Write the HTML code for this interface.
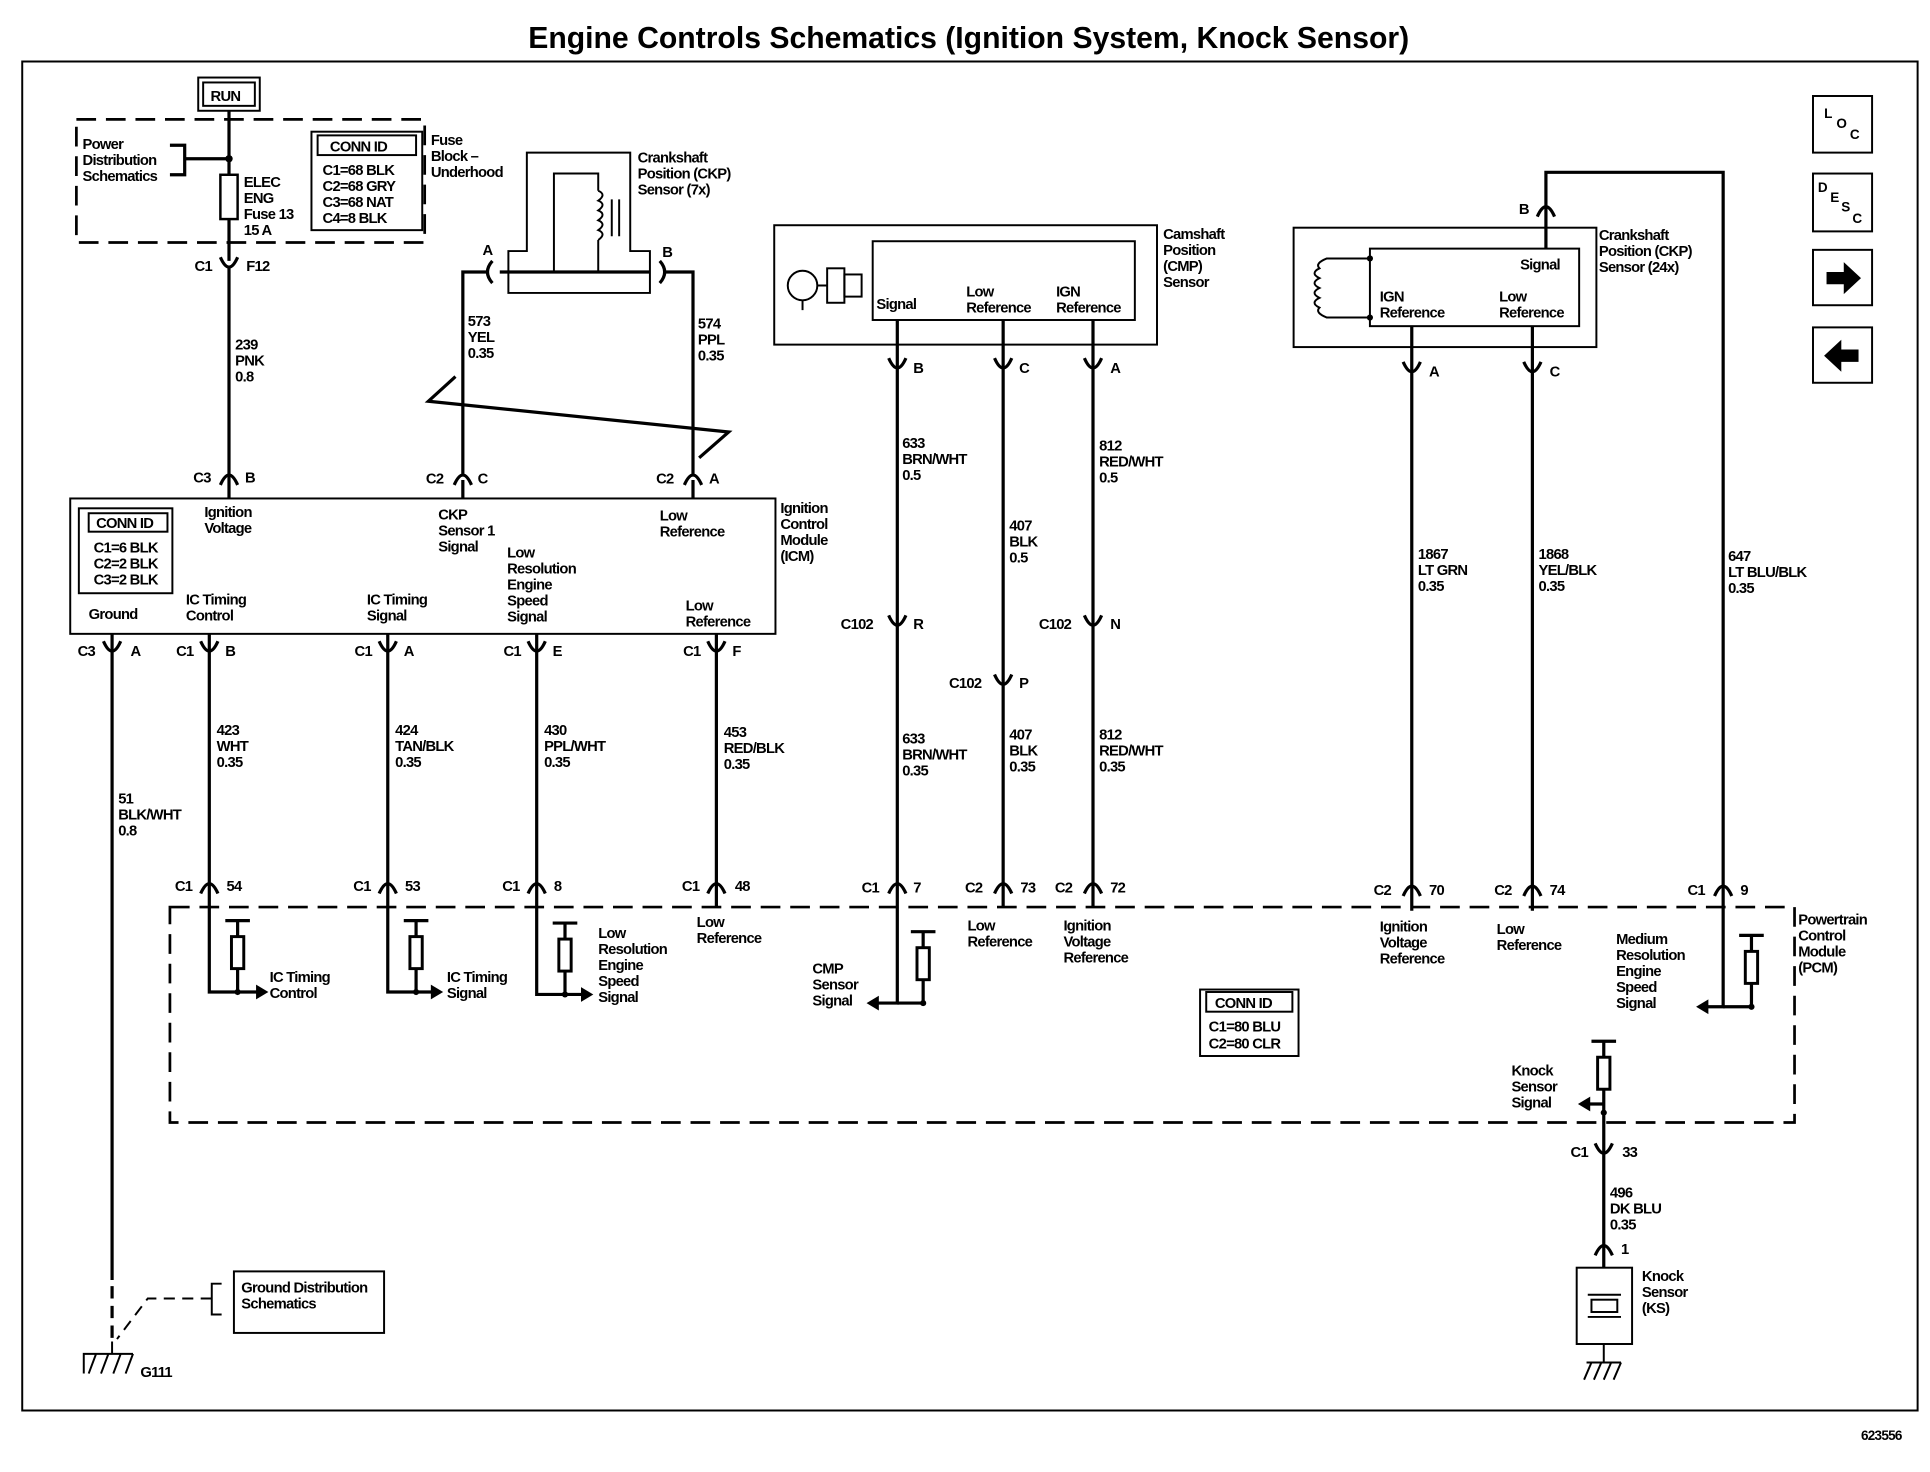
<!DOCTYPE html>
<html><head><meta charset="utf-8"><style>
html,body{margin:0;padding:0;background:#fff;}
svg{display:block;}
text{font-family:"Liberation Sans",sans-serif;font-size:12px;font-weight:bold;letter-spacing:-0.6px;fill:#000;}
.w{stroke:#000;stroke-width:2.6;fill:none;}
.t{stroke:#000;stroke-width:1.6;fill:none;}
.d{stroke:#000;stroke-width:2.2;fill:none;stroke-dasharray:16,8;}
</style></head><body>
<svg width="1930" height="1472" viewBox="0 0 1568 1196" xmlns="http://www.w3.org/2000/svg">
<defs>
<path id="cd" d="M-7,-6 Q0,10 7,-6" stroke="#000" stroke-width="2.6" fill="none"/>
<path id="cu" d="M-7,6 Q0,-10 7,6" stroke="#000" stroke-width="2.6" fill="none"/>
<g id="res"><line x1="-10" y1="0" x2="10" y2="0" stroke="#000" stroke-width="2.6"/><line x1="0" y1="0" x2="0" y2="58" stroke="#000" stroke-width="2.6"/><rect x="-5" y="13" width="10" height="26" fill="#fff" stroke="#000" stroke-width="2.4"/><circle cx="0" cy="58" r="2.5"/></g>
</defs>
<rect width="1568" height="1196" fill="#fff"/>
<text x="787" y="39" text-anchor="middle" style="font-size:24.5px;letter-spacing:0px">Engine Controls Schematics (Ignition System, Knock Sensor)</text>
<path d="M18,50 H1558 V1146 H18 Z" class="t" stroke-width="2"/>
<text x="1512" y="1170" style="font-size:11px">623556</text>

<!-- RUN -->
<rect x="161" y="63" width="50" height="27" class="t" stroke-width="3"/>
<rect x="165" y="67" width="42" height="19" class="t" stroke-width="1"/>
<text x="171" y="82">RUN</text>
<!-- power dist -->
<path d="M62,97 H345 V197 H62 Z" class="d"/>
<text><tspan x="67" y="121">Power</tspan><tspan x="67" y="134">Distribution</tspan><tspan x="67" y="147">Schematics</tspan></text>
<path d="M138,118 H150 V142 H138 M150,129 H186" class="w" stroke-width="2"/>
<circle cx="186" cy="129" r="3"/>
<path d="M186,90 V142 M186,178 V212 M186,218 V405" class="w"/>
<rect x="179" y="142" width="14" height="36" fill="#fff" stroke="#000" stroke-width="2"/>
<text><tspan x="198" y="152">ELEC</tspan><tspan x="198" y="165">ENG</tspan><tspan x="198" y="178">Fuse 13</tspan><tspan x="198" y="191">15 A</tspan></text>
<rect x="253" y="107" width="90" height="80" class="t" stroke-width="2.4"/>
<rect x="258" y="110" width="80" height="16" class="t"/>
<text x="268" y="123">CONN ID</text>
<text><tspan x="262" y="142">C1=68 BLK</tspan><tspan x="262" y="155">C2=68 GRY</tspan><tspan x="262" y="168">C3=68 NAT</tspan><tspan x="262" y="181">C4=8 BLK</tspan></text>
<text><tspan x="350" y="118">Fuse</tspan><tspan x="350" y="131">Block –</tspan><tspan x="350" y="144">Underhood</tspan></text>
<use href="#cd" x="186" y="215"/>
<text x="158" y="220">C1</text><text x="200" y="220">F12</text>
<text><tspan x="191" y="284">239</tspan><tspan x="191" y="297">PNK</tspan><tspan x="191" y="310">0.8</tspan></text>
<use href="#cu" x="186" y="388"/>
<text x="157" y="392">C3</text><text x="199" y="392">B</text>

<!-- CKP 7x -->
<path d="M428,204 V124 H512 V204 H528 V238 H413 V204 Z" class="t" stroke-width="2.4"/>
<path d="M450,221 V141 H486 V155 M486,195 V221" class="t" stroke-width="2.4"/>
<path d="M486,155 q7,3 0,8 q7,3 0,8 q7,3 0,8 q7,3 0,8 q7,3 0,8" class="t" stroke-width="2"/>
<path d="M497,162 V192 M503,162 V192" class="t" stroke-width="2"/>
<path d="M406,221 H528" class="w"/>
<path d="M400,212 q-8,9 0,18 M536,212 q8,9 0,18" class="w"/>
<text x="392" y="207">A</text><text x="538" y="209">B</text>
<path d="M396,221 H376 V385 M540,221 H563 V385" class="w"/>
<path d="M370,306 L348,326 L592,351 L568,372" class="w" stroke-width="2"/>
<text><tspan x="518" y="132">Crankshaft</tspan><tspan x="518" y="145">Position (CKP)</tspan><tspan x="518" y="158">Sensor (7x)</tspan></text>
<text><tspan x="380" y="265">573</tspan><tspan x="380" y="278">YEL</tspan><tspan x="380" y="291">0.35</tspan></text>
<text><tspan x="567" y="267">574</tspan><tspan x="567" y="280">PPL</tspan><tspan x="567" y="293">0.35</tspan></text>
<use href="#cu" x="376" y="388"/><text x="346" y="393">C2</text><text x="388" y="393">C</text>
<use href="#cu" x="563" y="388"/><text x="533" y="393">C2</text><text x="576" y="393">A</text>
<path d="M376,390 V405 M563,390 V405" class="w"/>

<!-- ICM -->
<rect x="57" y="405" width="573" height="110" class="t" stroke-width="2.4"/>
<rect x="64" y="413" width="76" height="69" class="t" stroke-width="2"/>
<rect x="72" y="417" width="64" height="15" class="t"/>
<text x="78" y="429">CONN ID</text>
<text><tspan x="76" y="449">C1=6 BLK</tspan><tspan x="76" y="462">C2=2 BLK</tspan><tspan x="76" y="475">C3=2 BLK</tspan></text>
<text><tspan x="634" y="417">Ignition</tspan><tspan x="634" y="430">Control</tspan><tspan x="634" y="443">Module</tspan><tspan x="634" y="456">(ICM)</tspan></text>
<text><tspan x="166" y="420">Ignition</tspan><tspan x="166" y="433">Voltage</tspan></text>
<text><tspan x="356" y="422">CKP</tspan><tspan x="356" y="435">Sensor 1</tspan><tspan x="356" y="448">Signal</tspan></text>
<text><tspan x="412" y="453">Low</tspan><tspan x="412" y="466">Resolution</tspan><tspan x="412" y="479">Engine</tspan><tspan x="412" y="492">Speed</tspan><tspan x="412" y="505">Signal</tspan></text>
<text><tspan x="536" y="423">Low</tspan><tspan x="536" y="436">Reference</tspan></text>
<text x="72" y="503">Ground</text>
<text><tspan x="151" y="491">IC Timing</tspan><tspan x="151" y="504">Control</tspan></text>
<text><tspan x="298" y="491">IC Timing</tspan><tspan x="298" y="504">Signal</tspan></text>
<text><tspan x="557" y="496">Low</tspan><tspan x="557" y="509">Reference</tspan></text>

<!-- ICM bottom wires -->
<path d="M91,515 V1040 M170,515 V806 H210 M315,515 V806 H352 M436,515 V808 H475 M582,515 V737" class="w"/>
<path d="M91,1045 V1090" class="w" stroke-dasharray="10,6"/>
<use href="#cd" x="91" y="527"/><text x="63" y="533">C3</text><text x="106" y="533">A</text>
<use href="#cd" x="170" y="527"/><text x="143" y="533">C1</text><text x="183" y="533">B</text>
<use href="#cd" x="315" y="527"/><text x="288" y="533">C1</text><text x="328" y="533">A</text>
<use href="#cd" x="436" y="527"/><text x="409" y="533">C1</text><text x="449" y="533">E</text>
<use href="#cd" x="582" y="527"/><text x="555" y="533">C1</text><text x="595" y="533">F</text>
<text><tspan x="96" y="653">51</tspan><tspan x="96" y="666">BLK/WHT</tspan><tspan x="96" y="679">0.8</tspan></text>
<text><tspan x="176" y="597">423</tspan><tspan x="176" y="610">WHT</tspan><tspan x="176" y="623">0.35</tspan></text>
<text><tspan x="321" y="597">424</tspan><tspan x="321" y="610">TAN/BLK</tspan><tspan x="321" y="623">0.35</tspan></text>
<text><tspan x="442" y="597">430</tspan><tspan x="442" y="610">PPL/WHT</tspan><tspan x="442" y="623">0.35</tspan></text>
<text><tspan x="588" y="599">453</tspan><tspan x="588" y="612">RED/BLK</tspan><tspan x="588" y="625">0.35</tspan></text>
<use href="#cu" x="170" y="720"/><text x="142" y="724">C1</text><text x="184" y="724">54</text>
<use href="#cu" x="315" y="720"/><text x="287" y="724">C1</text><text x="329" y="724">53</text>
<use href="#cu" x="436" y="720"/><text x="408" y="724">C1</text><text x="450" y="724">8</text>
<use href="#cu" x="582" y="720"/><text x="554" y="724">C1</text><text x="597" y="724">48</text>

<!-- PCM box -->
<path d="M138,737 H1458 V912 H138 Z" class="d"/>
<text><tspan x="1461" y="751">Powertrain</tspan><tspan x="1461" y="764">Control</tspan><tspan x="1461" y="777">Module</tspan><tspan x="1461" y="790">(PCM)</tspan></text>
<use href="#res" x="193" y="748"/><path d="M208,800 L218,806 L208,812 Z"/>
<text><tspan x="219" y="798">IC Timing</tspan><tspan x="219" y="811">Control</tspan></text>
<use href="#res" x="338" y="748"/><path d="M350,800 L360,806 L350,812 Z"/>
<text><tspan x="363" y="798">IC Timing</tspan><tspan x="363" y="811">Signal</tspan></text>
<use href="#res" x="459" y="750"/><path d="M472,802 L482,808 L472,814 Z"/>
<text><tspan x="486" y="762">Low</tspan><tspan x="486" y="775">Resolution</tspan><tspan x="486" y="788">Engine</tspan><tspan x="486" y="801">Speed</tspan><tspan x="486" y="814">Signal</tspan></text>
<text><tspan x="566" y="753">Low</tspan><tspan x="566" y="766">Reference</tspan></text>

<!-- CMP sensor -->
<rect x="629" y="183" width="311" height="97" class="t" stroke-width="2.4"/>
<rect x="709" y="196" width="213" height="64" class="t" stroke-width="2.4"/>
<circle cx="652" cy="232" r="12" class="t" stroke-width="2.4"/>
<path d="M652,244 V252 M664,232 H672" class="t" stroke-width="2"/>
<rect x="672" y="218" width="14" height="28" class="t" stroke-width="2.2"/>
<rect x="686" y="223" width="14" height="18" class="t" stroke-width="2.2"/>
<text x="712" y="251">Signal</text>
<text><tspan x="785" y="241">Low</tspan><tspan x="785" y="254">Reference</tspan></text>
<text><tspan x="858" y="241">IGN</tspan><tspan x="858" y="254">Reference</tspan></text>
<text><tspan x="945" y="194">Camshaft</tspan><tspan x="945" y="207">Position</tspan><tspan x="945" y="220">(CMP)</tspan><tspan x="945" y="233">Sensor</tspan></text>
<path d="M729,260 V815 H712 M815,260 V737 M888,260 V737" class="w"/>
<use href="#cd" x="729" y="297"/><text x="742" y="303">B</text>
<use href="#cd" x="815" y="297"/><text x="828" y="303">C</text>
<use href="#cd" x="888" y="297"/><text x="902" y="303">A</text>
<text><tspan x="733" y="364">633</tspan><tspan x="733" y="377">BRN/WHT</tspan><tspan x="733" y="390">0.5</tspan></text>
<text><tspan x="820" y="431">407</tspan><tspan x="820" y="444">BLK</tspan><tspan x="820" y="457">0.5</tspan></text>
<text><tspan x="893" y="366">812</tspan><tspan x="893" y="379">RED/WHT</tspan><tspan x="893" y="392">0.5</tspan></text>
<use href="#cd" x="729" y="506"/><text x="683" y="511">C102</text><text x="742" y="511">R</text>
<use href="#cd" x="815" y="554"/><text x="771" y="559">C102</text><text x="828" y="559">P</text>
<use href="#cd" x="888" y="506"/><text x="844" y="511">C102</text><text x="902" y="511">N</text>
<text><tspan x="733" y="604">633</tspan><tspan x="733" y="617">BRN/WHT</tspan><tspan x="733" y="630">0.35</tspan></text>
<text><tspan x="820" y="601">407</tspan><tspan x="820" y="614">BLK</tspan><tspan x="820" y="627">0.35</tspan></text>
<text><tspan x="893" y="601">812</tspan><tspan x="893" y="614">RED/WHT</tspan><tspan x="893" y="627">0.35</tspan></text>
<use href="#cu" x="729" y="720"/><text x="700" y="725">C1</text><text x="742" y="725">7</text>
<use href="#cu" x="815" y="720"/><text x="784" y="725">C2</text><text x="829" y="725">73</text>
<use href="#cu" x="888" y="720"/><text x="857" y="725">C2</text><text x="902" y="725">72</text>
<use href="#res" x="750" y="757"/><path d="M750,815 H729" class="w"/><path d="M714,809 L704,815 L714,821 Z"/>
<text><tspan x="660" y="791">CMP</tspan><tspan x="660" y="804">Sensor</tspan><tspan x="660" y="817">Signal</tspan></text>
<text><tspan x="786" y="756">Low</tspan><tspan x="786" y="769">Reference</tspan></text>
<text><tspan x="864" y="756">Ignition</tspan><tspan x="864" y="769">Voltage</tspan><tspan x="864" y="782">Reference</tspan></text>

<!-- CKP 24x -->
<rect x="1051" y="185" width="246" height="97" class="t" stroke-width="2.4"/>
<rect x="1113" y="202" width="170" height="63" class="t" stroke-width="2.4"/>
<path d="M1113,210 H1078 q-10,4 -6,8 q-8,4 0,8 q-8,4 0,8 q-8,4 0,8 q-8,4 0,8 q-4,4 6,8 H1113" class="t" stroke-width="2"/>
<circle cx="1113" cy="210" r="2.5"/><circle cx="1113" cy="258" r="2.5"/>
<text x="1235" y="219">Signal</text>
<text><tspan x="1121" y="245">IGN</tspan><tspan x="1121" y="258">Reference</tspan></text>
<text><tspan x="1218" y="245">Low</tspan><tspan x="1218" y="258">Reference</tspan></text>
<text><tspan x="1299" y="195">Crankshaft</tspan><tspan x="1299" y="208">Position (CKP)</tspan><tspan x="1299" y="221">Sensor (24x)</tspan></text>
<path d="M1256,202 V140 H1400 V818 H1386 M1147,265 V740 M1245,265 V740" class="w"/>
<use href="#cu" x="1256" y="170"/><text x="1234" y="174">B</text>
<use href="#cd" x="1147" y="300"/><text x="1161" y="306">A</text>
<use href="#cd" x="1245" y="300"/><text x="1259" y="306">C</text>
<text><tspan x="1152" y="454">1867</tspan><tspan x="1152" y="467">LT GRN</tspan><tspan x="1152" y="480">0.35</tspan></text>
<text><tspan x="1250" y="454">1868</tspan><tspan x="1250" y="467">YEL/BLK</tspan><tspan x="1250" y="480">0.35</tspan></text>
<text><tspan x="1404" y="456">647</tspan><tspan x="1404" y="469">LT BLU/BLK</tspan><tspan x="1404" y="482">0.35</tspan></text>
<use href="#cu" x="1147" y="722"/><text x="1116" y="727">C2</text><text x="1161" y="727">70</text>
<use href="#cu" x="1245" y="722"/><text x="1214" y="727">C2</text><text x="1259" y="727">74</text>
<use href="#cu" x="1400" y="722"/><text x="1371" y="727">C1</text><text x="1414" y="727">9</text>
<use href="#res" x="1423" y="760"/><path d="M1423,818 H1400" class="w"/><path d="M1388,812 L1378,818 L1388,824 Z"/>
<text><tspan x="1313" y="767">Medium</tspan><tspan x="1313" y="780">Resolution</tspan><tspan x="1313" y="793">Engine</tspan><tspan x="1313" y="806">Speed</tspan><tspan x="1313" y="819">Signal</tspan></text>
<text><tspan x="1121" y="757">Ignition</tspan><tspan x="1121" y="770">Voltage</tspan><tspan x="1121" y="783">Reference</tspan></text>
<text><tspan x="1216" y="759">Low</tspan><tspan x="1216" y="772">Reference</tspan></text>
<rect x="975" y="804" width="80" height="54" class="t" stroke-width="2"/>
<rect x="980" y="806" width="70" height="16" class="t"/>
<text x="987" y="819">CONN ID</text>
<text><tspan x="982" y="838">C1=80 BLU</tspan><tspan x="982" y="852">C2=80 CLR</tspan></text>

<!-- Knock sensor -->
<use href="#res" x="1303" y="846"/>
<path d="M1303,904 V1030 M1303,897 H1290" class="w"/><path d="M1292,891 L1282,897 L1292,903 Z"/>
<text><tspan x="1228" y="874">Knock</tspan><tspan x="1228" y="887">Sensor</tspan><tspan x="1228" y="900">Signal</tspan></text>
<use href="#cd" x="1303" y="935"/><text x="1276" y="940">C1</text><text x="1318" y="940">33</text>
<text><tspan x="1308" y="973">496</tspan><tspan x="1308" y="986">DK BLU</tspan><tspan x="1308" y="999">0.35</tspan></text>
<use href="#cu" x="1303" y="1014"/><text x="1317" y="1019">1</text>
<rect x="1281" y="1030" width="45" height="62" class="t" stroke-width="2.4"/>
<path d="M1290,1052 H1317 M1290,1070 H1317" class="t" stroke-width="2.4"/>
<rect x="1293" y="1056" width="21" height="10" class="t" stroke-width="2"/>
<path d="M1303,1092 V1107 M1289,1107 H1317 M1293,1107 l-6,14 M1301,1107 l-6,14 M1309,1107 l-6,14 M1317,1107 l-6,14" class="t" stroke-width="2"/>
<text><tspan x="1334" y="1041">Knock</tspan><tspan x="1334" y="1054">Sensor</tspan><tspan x="1334" y="1067">(KS)</tspan></text>

<!-- Ground dist -->
<rect x="190" y="1033" width="122" height="50" class="t" stroke-width="2.4"/>
<text><tspan x="196" y="1050">Ground Distribution</tspan><tspan x="196" y="1063">Schematics</tspan></text>
<path d="M180,1043 H172 V1068 H180" class="t" stroke-width="2"/>
<path d="M172,1055 H120 L95,1088" class="t" stroke-width="2" stroke-dasharray="9,6"/>
<path d="M68,1116 V1100 H108 M91,1090 V1100 M78,1100 l-6,16 M88,1100 l-6,16 M98,1100 l-6,16 M108,1100 l-6,16" class="t" stroke-width="2"/>
<text x="114" y="1119">G111</text>

<!-- nav icons -->
<rect x="1473" y="78" width="48" height="46" class="t" stroke-width="2.2"/>
<text x="1482" y="96" style="font-size:11px">L</text><text x="1492" y="104" style="font-size:11px">O</text><text x="1503" y="113" style="font-size:11px">C</text>
<rect x="1473" y="141" width="48" height="47" class="t" stroke-width="2.2"/>
<text x="1477" y="156" style="font-size:11px">D</text><text x="1487" y="164" style="font-size:11px">E</text><text x="1496" y="172" style="font-size:11px">S</text><text x="1505" y="181" style="font-size:11px">C</text>
<rect x="1473" y="203" width="48" height="45" class="t" stroke-width="2.2"/>
<path d="M1484,221 H1498 V213 L1512,226 L1498,239 V231 H1484 Z"/>
<rect x="1473" y="266" width="48" height="45" class="t" stroke-width="2.2"/>
<path d="M1510,284 H1496 V276 L1482,289 L1496,302 V294 H1510 Z"/>
</svg>
</body></html>
